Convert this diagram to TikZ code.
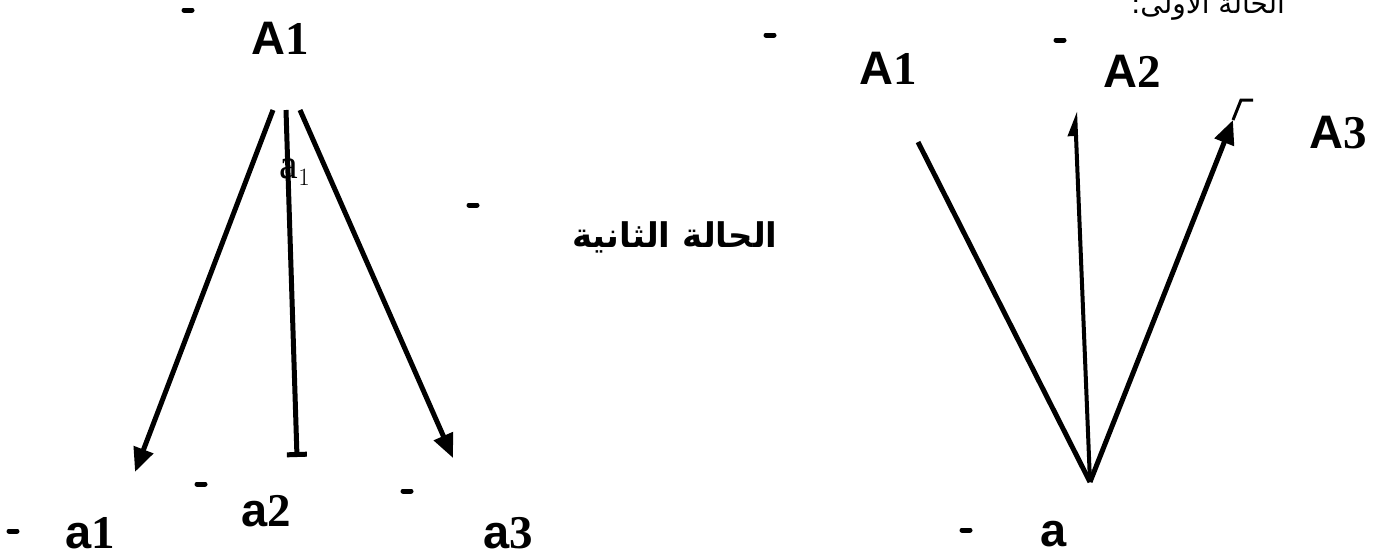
\documentclass[tikz,border=0pt]{standalone}
\usepackage{fontspec}
\setmainfont{Liberation Serif}
\setsansfont{Liberation Sans}
\newfontfamily\arabicfont[Script=Arabic]{DejaVu Sans}
\TeXXeTstate=1
\usetikzlibrary{
	arrows.meta,
	positioning
}
\newcommand{\lab}[2]{\textsf{\bfseries #1}\textrm{\bfseries #2}}

\begin{document}
\begin{tikzpicture}[
			x=1pt, y=-1pt,
			lbl/.style={inner sep=0pt, font=\fontsize{47}{54}\selectfont},
			fl/.style={line width=5pt, -{Triangle[length=24pt, width=20pt]}},
			ln/.style={line width=5pt},
			frag/.style={line width=5pt, line cap=round},
			>=Triangle
		]
		\useasboundingbox (0,0) rectangle (1378,558);

		% second case
		\node[lbl] (A1l) at (280,38) {\lab{A}{1}};
		\node[lbl] (a1) at (90,533) {\lab{a}{1}};
		\node[lbl] (a2) at (266,511) {\lab{a}{2}};
		\node[lbl] (a3) at (508,533) {\lab{a}{3}};
		\node[inner sep=0pt, font=\fontsize{42}{48}\selectfont] (sub) at (295,172) {$\mathrm{a}_1$};

		\coordinate (s1) at (273,110);
		\coordinate (s2) at (286,110);
		\coordinate (s3) at (300,110);
		\coordinate (t1) at (135,472);
		\coordinate (t2) at (297,457);
		\coordinate (t3) at (453,458);

		\draw[fl] (s1) -- (t1);
		\draw[line width=5pt, -{Bar[width=20pt]}] (s2) -- (t2);
		\draw[fl] (s3) -- (t3);

		\node[inner sep=0pt, font=\arabicfont\bfseries\fontsize{34}{40}\selectfont] (case2) at (675,237) {\beginR الحالة الثانية\endR};

		% first case
		\node[inner sep=0pt, anchor=base, font=\arabicfont\fontsize{28}{34}\selectfont] (case1) at (1208,13) {\beginR الحالة الأولى:\endR};
		\node[lbl] (A1r) at (888,68) {\lab{A}{1}};
		\node[lbl] (A2) at (1132,71) {\lab{A}{2}};
		\node[lbl] (A3) at (1338,133) {\lab{A}{3}};
		\node[lbl] (a) at (1054,534) {\lab{a}{}};

		\coordinate (o) at (1090,482);
		\coordinate (e1) at (918,142);
		\coordinate (e2) at (1075,111);
		\coordinate (e3) at (1233,120);
		\coordinate (hk) at (1241,100);
		\coordinate (hk2) at (1253,100);

		\draw[ln] (o) -- (e1);
		\draw[line width=4pt, -{Triangle[harpoon, length=20pt, width=16pt]}] (o) -- (e2);
		\draw[fl] (o) -- (e3);
		\draw[line width=3pt] (e3) -- (hk) -- (hk2);

		% stray marks
		\foreach \px/\py in {188/10, 770/35, 1060/40, 473/205, 201/484, 407/491, 13/531, 966/530}
			\draw[frag] (\px-4,\py) -- (\px+4,\py);
	\end{tikzpicture}
\end{document}
